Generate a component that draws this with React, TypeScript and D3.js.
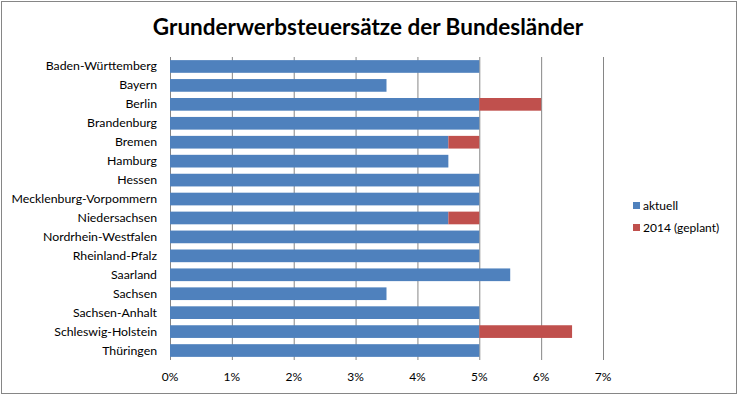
import * as d3 from 'd3';

const states = [
  'Baden-Württemberg',
  'Bayern',
  'Berlin',
  'Brandenburg',
  'Bremen',
  'Hamburg',
  'Hessen',
  'Mecklenburg-Vorpommern',
  'Niedersachsen',
  'Nordrhein-Westfalen',
  'Rheinland-Pfalz',
  'Saarland',
  'Sachsen',
  'Sachsen-Anhalt',
  'Schleswig-Holstein',
  'Thüringen',
];
const aktuell = [5, 3.5, 5, 5, 4.5, 4.5, 5, 5, 4.5, 5, 5, 5.5, 3.5, 5, 5, 5];
const geplant = [0, 0, 1, 0, 0.5, 0, 0, 0, 0.5, 0, 0, 0, 0, 0, 1.5, 0];
const ticks = [0, 1, 2, 3, 4, 5, 6, 7];
const seriesNames = ['aktuell', '2014 (geplant)'];
const colors = ['#4F81BD', '#C0504D'];

const W = 738;
const H = 396;
const margin = { top: 57, left: 170, right: 135, bottom: 36 };
const font = 'Lato, Carlito, "Open Sans", sans-serif';

export default function App() {
  const x = d3.scaleLinear().domain([0, 7]).range([margin.left, W - margin.right]);
  const y = d3
    .scaleBand()
    .domain(states)
    .range([margin.top, H - margin.bottom])
    .paddingInner(0.33)
    .paddingOuter(0.165);

  const rows = states.map((s, i) => ({ s, a: aktuell[i], g: geplant[i] }));

  return (
    <svg
      width={W}
      height={H}
      style={{ position: 'absolute', left: 0, top: 0, background: '#fff' }}
    >
      <rect x={1.5} y={1.5} width={W - 3} height={H - 4} fill="#fff" stroke="#868686" />
      <text
        x={368}
        y={35}
        textAnchor="middle"
        fontFamily={font}
        fontWeight="bold"
        fontSize={22.5}
        fill="#000"
      >
        Grunderwerbsteuersätze der Bundesländer
      </text>

      {/* gridlines */}
      {ticks.map((t) => (
        <line
          key={t}
          x1={x(t)}
          x2={x(t)}
          y1={margin.top}
          y2={H - margin.bottom}
          stroke="#868686"
          strokeWidth={1}
          transform="translate(0.5,0)"
        />
      ))}

      {rows.map((d) => (
        <g key={d.s}>
          <rect
            x={x(0)}
            y={y(d.s)}
            width={x(d.a) - x(0)}
            height={y.bandwidth()}
            fill={colors[0]}
          />
          {d.g > 0 && (
            <rect
              x={x(d.a)}
              y={y(d.s)}
              width={x(d.a + d.g) - x(d.a)}
              height={y.bandwidth()}
              fill={colors[1]}
            />
          )}
          <text
            x={157}
            y={(y(d.s) as number) + y.bandwidth() / 2 + 4}
            textAnchor="end"
            fontFamily={font}
            fontSize={12.3}
            fill="#000"
          >
            {d.s}
          </text>
        </g>
      ))}

      {ticks.map((t) => (
        <text
          key={t}
          x={x(t)}
          y={381}
          textAnchor="middle"
          fontFamily={font}
          fontSize={12}
          fill="#000"
        >
          {t}%
        </text>
      ))}

      {/* legend */}
      {seriesNames.map((n, i) => (
        <g key={n} transform={`translate(633,${202 + i * 22})`}>
          <rect width={7} height={7} fill={colors[i]} />
          <text x={10} y={8} fontFamily={font} fontSize={12} fill="#000">
            {n}
          </text>
        </g>
      ))}
    </svg>
  );
}
